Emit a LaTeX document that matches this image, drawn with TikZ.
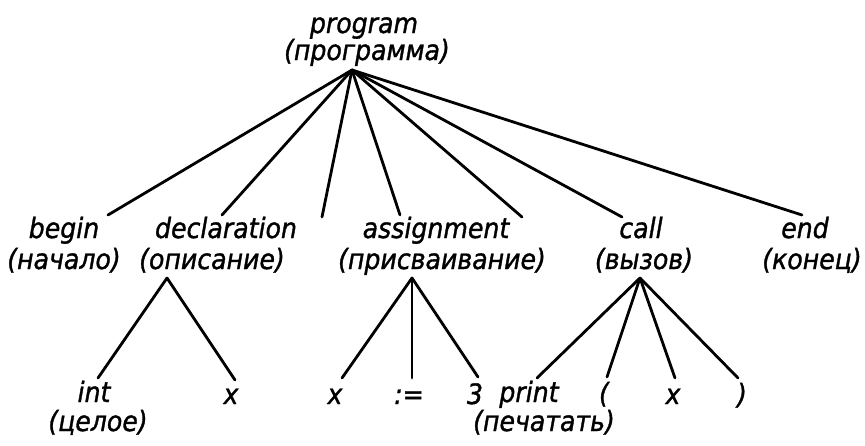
\documentclass[tikz,border=0pt]{standalone}
\usepackage{fontspec}
\setmainfont{DejaVu Sans}[FakeStretch=0.9,FakeBold=1.2]
\begin{document}
\begin{tikzpicture}[x=1pt,y=-1pt,
  lbl/.style={anchor=base,inner sep=0pt,font=\fontsize{28}{30}\selectfont\itshape},
  edge/.style={line width=2.8pt,line cap=round}]
\useasboundingbox (0,0) rectangle (865,445);
% labels
\node[lbl] (program)    at (364,33)  {program};
\node[lbl] (program-ru) at (367,60)  {(программа)};
\node[lbl] (begin)      at (64,238)  {begin};
\node[lbl] (begin-ru)   at (64,269)  {(начало)};
\node[lbl] (decl)       at (226,238) {declaration};
\node[lbl] (decl-ru)    at (212,269) {(описание)};
\node[lbl] (assign)     at (436,238) {assignment};
\node[lbl] (assign-ru)  at (442,269) {(присваивание)};
\node[lbl] (call)       at (641,238) {call};
\node[lbl] (call-ru)    at (644,269) {(вызов)};
\node[lbl] (end)        at (805,238) {end};
\node[lbl] (end-ru)     at (812,269) {(конец)};
\node[lbl] (int)        at (94,402)  {int};
\node[lbl] (int-ru)     at (98,431)  {(целое)};
\node[lbl] (dx)         at (231,404) {x};
\node[lbl] (ax)         at (335,404) {x};
\node[lbl] (asg)        at (409,404) {:=};
\node[lbl] (three)      at (475,404) {3};
\node[lbl] (print)      at (529,402) {print};
\node[lbl] (print-ru)   at (544,431) {(печатать)};
\node[lbl] (lpar)       at (604,403) {(};
\node[lbl] (cx)         at (673,404) {x};
\node[lbl] (rpar)       at (742,404) {)};
% connector end points
\coordinate (rootA)   at (352,70);
\coordinate (declA)   at (167,278);
\coordinate (assignA) at (412,278);
\coordinate (callA)   at (640,278);
\coordinate (t-begin) at (108,215);
\coordinate (t-decl)  at (222,215);
\coordinate (t-e1)    at (322,217);
\coordinate (t-asg)   at (400,215);
\coordinate (t-e2)    at (522,217);
\coordinate (t-call)  at (622,217);
\coordinate (t-end)   at (802,215);
\coordinate (t-int)   at (98,378);
\coordinate (t-dx)    at (235,380);
\coordinate (t-ax)    at (342,378);
\coordinate (t-as)    at (412,378);
\coordinate (t-3)     at (478,377);
\coordinate (t-print) at (537,378);
\coordinate (t-lpar)  at (607,377);
\coordinate (t-cx)    at (675,378);
\coordinate (t-rpar)  at (738,378);
% connectors
\foreach \t in {t-begin,t-decl,t-e1,t-asg,t-e2,t-call,t-end}
  \draw[edge] (rootA) -- (\t);
\foreach \t in {t-int,t-dx}
  \draw[edge] (declA) -- (\t);
\foreach \t in {t-ax,t-as,t-3}
  \draw[edge] (assignA) -- (\t);
\foreach \t in {t-print,t-lpar,t-cx,t-rpar}
  \draw[edge] (callA) -- (\t);
\end{tikzpicture}
\end{document}
